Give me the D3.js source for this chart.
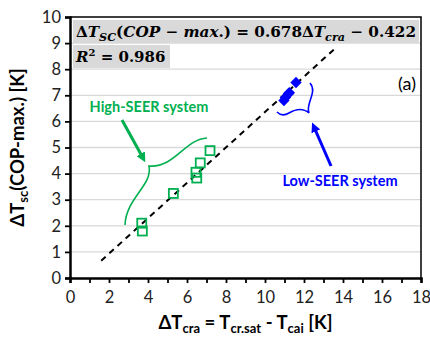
<!DOCTYPE html>
<html>
<head>
<meta charset="utf-8">
<script src="https://cdn.jsdelivr.net/npm/d3@7"></script>
<style>
  body { margin: 0; background: #fff; }
  svg { display: block; }
</style>
</head>
<body>
<script>
var width = 430;
var height = 342;
var margin = {top: 17, right: 9, bottom: 64, left: 70};

// data
var highSeerX = [3.68, 3.71, 5.3, 6.46, 6.5, 6.68, 7.18];
var highSeerY = [2.1, 1.8, 3.24, 4.05, 3.83, 4.41, 4.88];
var lowSeerX = [10.97, 11.05, 11.2, 11.25, 11.59];
var lowSeerY = [6.8, 6.92, 7.06, 7.1, 7.49];
var fitSlope = 0.678;
var fitIntercept = -0.422;
var fitRange = [1.6, 13.6];
var xTicks = [0, 2, 4, 6, 8, 10, 12, 14, 16, 18];
var yTicks = [0, 1, 2, 3, 4, 5, 6, 7, 8, 9, 10];

var green = "#00b050";
var blue = "#0000ff";
var font = "Lato, 'Open Sans', sans-serif";

var svg = d3.select("body").append("svg")
    .attr("width", width)
    .attr("height", height);

var x = d3.scaleLinear().domain([0, 18]).range([margin.left, width - margin.right]);
var y = d3.scaleLinear().domain([0, 10]).range([height - margin.bottom, margin.top]);

// grid
svg.append("g")
  .selectAll("line")
  .data(yTicks.slice(1, -1))
  .enter().append("line")
    .attr("x1", x(0)).attr("x2", x(18))
    .attr("y1", d => y(d)).attr("y2", d => y(d))
    .attr("stroke", "#d9d9d9")
    .attr("stroke-width", 1.3);

// frame top/right
svg.append("path")
    .attr("d", `M${x(0)},${y(10)}H${x(18)}V${y(0)}`)
    .attr("fill", "none")
    .attr("stroke", "#000")
    .attr("stroke-width", 1.5);

var xAxis = svg.append("g")
    .attr("transform", `translate(0,${y(0)})`)
    .call(d3.axisBottom(x).tickValues(d3.range(0, 19)).tickSize(5).tickFormat(d => xTicks.includes(d) ? d : ""));
var yAxis = svg.append("g")
    .attr("transform", `translate(${x(0)},0)`)
    .call(d3.axisLeft(y).tickValues(yTicks).tickSize(5));

[xAxis, yAxis].forEach(a => {
  a.select(".domain").attr("stroke", "#000").attr("stroke-width", 2.5);
  a.selectAll(".tick line").attr("stroke", "#000").attr("stroke-width", 1.8);
  a.selectAll(".tick text").attr("fill", "#222").style("font-family", font).style("font-size", "16.5px");
});
xAxis.selectAll(".tick text").attr("dy", "1.0em");
yAxis.selectAll(".tick text").attr("dx", "-1px");

// fit line
svg.append("line")
    .attr("x1", x(fitRange[0])).attr("y1", y(fitSlope * fitRange[0] + fitIntercept))
    .attr("x2", x(fitRange[1])).attr("y2", y(fitSlope * fitRange[1] + fitIntercept))
    .attr("stroke", "#000")
    .attr("stroke-width", 2)
    .attr("stroke-dasharray", "6,5");

// high-SEER points
svg.append("g")
  .selectAll("rect")
  .data(highSeerX)
  .enter().append("rect")
    .attr("x", d => x(d) - 4.5)
    .attr("y", (d, i) => y(highSeerY[i]) - 4.5)
    .attr("width", 9).attr("height", 9)
    .attr("fill", "none")
    .attr("stroke", green)
    .attr("stroke-width", 1.8);

// low-SEER points
svg.append("g")
  .selectAll("rect")
  .data(lowSeerX)
  .enter().append("rect")
    .attr("x", -4).attr("y", -4)
    .attr("width", 8).attr("height", 8)
    .attr("transform", (d, i) => `translate(${x(d)},${y(lowSeerY[i])}) rotate(45)`)
    .attr("fill", blue);

// equation boxes
svg.append("rect").attr("x", 73).attr("y", 20).attr("width", 346).attr("height", 23).attr("fill", "#d9d9d9");
svg.append("rect").attr("x", 73).attr("y", 45).attr("width", 97).attr("height", 23).attr("fill", "#d9d9d9");

var mathFont = "'DejaVu Serif', serif";
var eq = svg.append("text")
    .attr("x", 76).attr("y", 37)
    .attr("textLength", 340)
    .attr("lengthAdjust", "spacingAndGlyphs")
    .style("font-family", mathFont)
    .style("font-weight", "bold")
    .style("font-size", "15px");
// [text, italic, dy, size]
[
  ["Δ", 0, 0, 15], ["T", 1, 0, 15], ["SC", 1, 4, 11], ["(", 0, -4, 15], ["COP", 1, 0, 15],
  [" − ", 0, 0, 15], ["max", 1, 0, 15], [".)", 0, 0, 15],
  [" = 0.678Δ", 0, 0, 15], ["T", 1, 0, 15], ["cra", 1, 4, 11], [" − 0.422", 0, -4, 15]
].forEach(p => {
  eq.append("tspan").text(p[0])
    .style("font-style", p[1] ? "italic" : "normal")
    .attr("dy", p[2])
    .style("font-size", p[3] + "px");
});

var r2 = svg.append("text")
    .attr("x", 76).attr("y", 62)
    .style("font-family", mathFont)
    .style("font-weight", "bold")
    .style("font-size", "15px");
r2.append("tspan").text("R").style("font-style", "italic");
r2.append("tspan").text("2").attr("dy", -6).style("font-size", "10px");
r2.append("tspan").text(" = 0.986").attr("dy", 6);

svg.append("text")
    .attr("x", 416).attr("y", 90)
    .attr("text-anchor", "end")
    .style("font-family", font)
    .style("font-size", "18px")
    .text("(a)");

// annotations
var defs = svg.append("defs");
[["ag", green], ["ab", blue]].forEach(m => {
  defs.append("marker")
      .attr("id", m[0])
      .attr("viewBox", "0 0 10 10")
      .attr("refX", 5).attr("refY", 5)
      .attr("markerWidth", 3.2).attr("markerHeight", 3.2)
      .attr("orient", "auto")
    .append("path")
      .attr("d", "M0,0L10,5L0,10Z")
      .attr("fill", m[1]);
});

svg.append("text")
    .attr("x", 149).attr("y", 112)
    .attr("text-anchor", "middle")
    .attr("fill", green)
    .style("font-family", font)
    .style("font-weight", "bold")
    .style("font-size", "14.5px")
    .text("High-SEER system");
svg.append("line")
    .attr("x1", 122).attr("y1", 120).attr("x2", 143).attr("y2", 158)
    .attr("stroke", green).attr("stroke-width", 3)
    .attr("marker-end", "url(#ag)");
svg.append("path")
    .attr("d", "M207,138 C185,139 175,168 149,166 C153,185 126,198 125,225")
    .attr("fill", "none").attr("stroke", green).attr("stroke-width", 1.6);

svg.append("text")
    .attr("x", 340).attr("y", 186)
    .attr("text-anchor", "middle")
    .attr("fill", blue)
    .style("font-family", font)
    .style("font-weight", "bold")
    .style("font-size", "14.5px")
    .text("Low-SEER system");
svg.append("line")
    .attr("x1", 331).attr("y1", 166).attr("x2", 314).attr("y2", 127)
    .attr("stroke", blue).attr("stroke-width", 3)
    .attr("marker-end", "url(#ab)");
svg.append("path")
    .attr("d", "M310,83 C318,92 305,104 309,113 C302,107 294,110 289,113 C284,116 280,115 277,112")
    .attr("fill", "none").attr("stroke", blue).attr("stroke-width", 1.6);

// axis titles
var xt = svg.append("text")
    .attr("x", x(9)).attr("y", 329)
    .attr("text-anchor", "middle")
    .style("font-family", font)
    .style("font-weight", "bold")
    .style("font-size", "18.5px");
xt.append("tspan").text("ΔT");
xt.append("tspan").text("cra").attr("dy", 4).style("font-size", "13px");
xt.append("tspan").text(" = T").attr("dy", -4);
xt.append("tspan").text("cr.sat").attr("dy", 4).style("font-size", "13px");
xt.append("tspan").text(" - T").attr("dy", -4);
xt.append("tspan").text("cai").attr("dy", 4).style("font-size", "13px");
xt.append("tspan").text(" [K]").attr("dy", -4);

var yt = svg.append("text")
    .attr("transform", `translate(24,${y(5)}) rotate(-90)`)
    .attr("text-anchor", "middle")
    .style("font-family", font)
    .style("font-weight", "bold")
    .style("font-size", "18.5px");
yt.append("tspan").text("ΔT");
yt.append("tspan").text("sc").attr("dy", 4).style("font-size", "13px");
yt.append("tspan").text("(COP-max.) [K]").attr("dy", -4);
</script>
</body>
</html>
